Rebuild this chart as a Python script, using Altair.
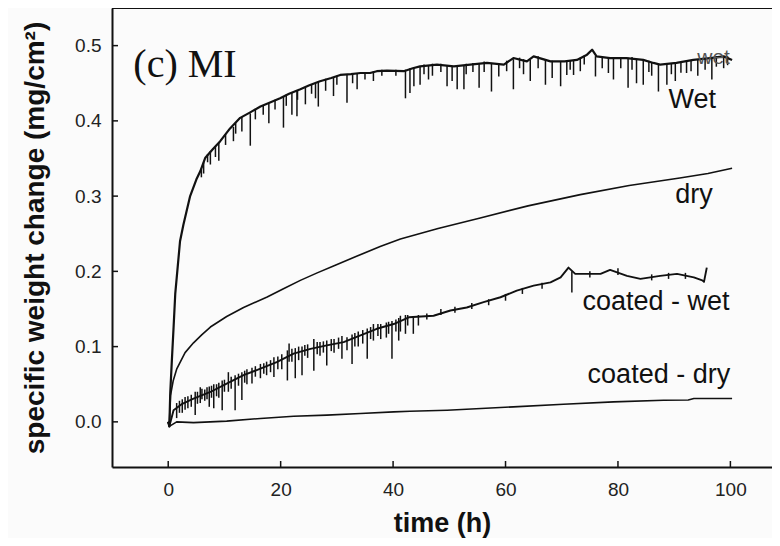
import altair as alt
import pandas as pd

# ---------------- data ----------------
x_ticks = [0, 20, 40, 60, 80, 100]
y_ticks = [0.0, 0.1, 0.2, 0.3, 0.4, 0.5]

wet_t = [0.0, 0.2, 0.36, 0.65, 0.95, 1.25, 2.1, 2.7, 3.9, 5.0, 5.7, 6.6, 8.0, 9.25, 11.0,
         12.8, 14.5, 16.4, 18.0, 19.9, 21.5, 23.5, 25.0, 27.0, 29.0, 30.6, 32.5, 34.2, 35.9,
         37.1, 38.9, 41.9, 43.5, 44.8, 47.8, 50.8, 53.7, 56.7, 59.7, 61.4, 63.8, 65.0, 68.0,
         70.5, 72.7, 74.5, 75.4, 76.2, 78.6, 81.5, 84.5, 86.3, 87.5, 90.4, 93.4, 96.4, 98.8, 100.3]
wet_v = [0.0, -0.006, 0.038, 0.082, 0.125, 0.17, 0.24, 0.262, 0.300, 0.322, 0.333, 0.351, 0.363,
         0.373, 0.39, 0.404, 0.411, 0.419, 0.424, 0.43, 0.436, 0.442, 0.447, 0.4526, 0.457, 0.461,
         0.462, 0.4636, 0.4636, 0.466, 0.4667, 0.466, 0.470, 0.4725, 0.4747, 0.4725, 0.4747, 0.477,
         0.4747, 0.4835, 0.479, 0.4857, 0.479, 0.479, 0.481, 0.488, 0.4946, 0.4857, 0.4835, 0.4835,
         0.481, 0.477, 0.4747, 0.477, 0.481, 0.4835, 0.4857, 0.481]

# downward spikes / jitter of the "Wet" trace: time, top, bottom
wet_spike_t = [7.5, 9.0, 11.6, 13.1, 14.6, 17.9, 20.5, 22.0, 22.9, 24.4, 26.2, 26.7, 29.4, 31.8,
               33.6, 36.5, 42.2, 43.0, 43.7, 44.8, 46.3, 49.6, 50.5, 51.4, 52.6, 55.3, 57.5, 58.8,
               61.4, 64.4, 67.1, 68.3, 69.8, 70.9, 72.1, 73.3, 76.0, 78.3, 79.2, 81.8, 83.3, 84.5,
               87.2, 88.7, 90.2, 92.2, 96.7, 98.8,
               5.9, 6.3, 7.0, 8.4, 10.2, 12.0, 15.5, 16.9, 19.0, 21.0, 23.0, 25.5, 28.0, 30.0,
               32.8, 35.0, 38.0, 40.5, 45.5, 47.0, 48.5, 53.0, 54.2, 56.2, 60.2, 62.5, 63.2, 65.8,
               71.5, 74.0, 77.2, 80.5, 82.5, 85.5, 86.0, 89.5, 91.2, 93.0, 94.2, 95.5, 97.5, 99.5]
wet_spike_top = [0.36, 0.372, 0.392, 0.405, 0.41, 0.423, 0.432, 0.438, 0.44, 0.445, 0.45, 0.452,
                 0.458, 0.462, 0.463, 0.466, 0.468, 0.470, 0.471, 0.472, 0.474, 0.474, 0.473, 0.473,
                 0.474, 0.476, 0.477, 0.476, 0.482, 0.481, 0.482, 0.480, 0.479, 0.479, 0.481, 0.484,
                 0.486, 0.484, 0.484, 0.484, 0.482, 0.481, 0.475, 0.476, 0.477, 0.479, 0.484, 0.486,
                 0.336, 0.345, 0.356, 0.366, 0.382, 0.397, 0.416, 0.421, 0.428, 0.435, 0.441, 0.449,
                 0.456, 0.46, 0.463, 0.465, 0.468, 0.468, 0.475, 0.476, 0.476, 0.476, 0.477, 0.479,
                 0.48, 0.484, 0.482, 0.486, 0.48, 0.487, 0.486, 0.485, 0.485, 0.48, 0.478, 0.476,
                 0.478, 0.481, 0.482, 0.484, 0.486, 0.486]
wet_spike_bot = [0.342, 0.347, 0.373, 0.386, 0.367, 0.397, 0.391, 0.408, 0.406, 0.422, 0.43, 0.419,
                 0.433, 0.424, 0.442, 0.453, 0.430, 0.437, 0.446, 0.448, 0.455, 0.446, 0.453, 0.442,
                 0.442, 0.444, 0.439, 0.459, 0.442, 0.453, 0.448, 0.457, 0.446, 0.461, 0.461, 0.466,
                 0.459, 0.4636, 0.455, 0.444, 0.45, 0.448, 0.439, 0.448, 0.453, 0.4636, 0.455, 0.470,
                 0.325, 0.33, 0.345, 0.352, 0.368, 0.383, 0.402, 0.408, 0.415, 0.42, 0.428, 0.436,
                 0.44, 0.448, 0.45, 0.455, 0.46, 0.46, 0.462, 0.46, 0.465, 0.462, 0.465, 0.465,
                 0.466, 0.47, 0.462, 0.47, 0.468, 0.475, 0.47, 0.47, 0.468, 0.465, 0.46, 0.462,
                 0.464, 0.466, 0.46, 0.468, 0.472, 0.474]

dry_t = [0.0, 0.2, 0.4, 0.9, 1.5, 3.0, 4.5, 6.0, 7.5, 10.4, 13.4, 17.6, 20.5, 23.5, 26.5, 29.4,
         33.5, 37.7, 41.3, 48.0, 55.5, 64.0, 73.3, 82.0, 91.0, 96.0, 100.3]
dry_v = [0.0, -0.004, 0.035, 0.055, 0.07, 0.092, 0.105, 0.116, 0.126, 0.140, 0.152, 0.166, 0.177,
         0.188, 0.198, 0.207, 0.220, 0.233, 0.243, 0.257, 0.271, 0.287, 0.302, 0.314, 0.324, 0.330,
         0.337]

cwet_t = [0.0, 0.2, 0.95, 2.5, 4.5, 7.5, 10.4, 13.4, 16.4, 19.3, 22.3, 25.3, 28.2, 31.2, 34.2,
          37.1, 40.1, 42.8, 47.2, 50.2, 53.1, 56.1, 59.1, 62.0, 65.0, 68.0, 69.8, 71.2, 72.4,
          76.9, 78.6, 81.6, 84.0, 87.5, 90.5, 93.5, 95.0, 95.3, 95.8]
cwet_v = [0.0, -0.006, 0.0155, 0.024, 0.031, 0.0397, 0.0508, 0.062, 0.0707, 0.0795, 0.0906, 0.097,
          0.1016, 0.106, 0.1148, 0.1237, 0.130, 0.139, 0.141, 0.148, 0.152, 0.159, 0.1656, 0.1744,
          0.181, 0.1854, 0.192, 0.205, 0.1966, 0.1966, 0.202, 0.194, 0.19, 0.194, 0.1966, 0.192,
          0.188, 0.186, 0.205]

# noise band of the "coated - wet" trace: time, top, bottom
cwet_spike_t = [1.5, 2.5, 3.5, 4.8, 5.7, 6.5, 7.3, 8.1, 9.0, 9.6, 10.7, 11.9, 13.1, 14.0, 14.9,
                16.4, 17.5, 18.8, 20.2, 21.2, 21.5, 22.6, 23.8, 24.8, 25.9, 27.0, 28.2, 29.5, 30.9,
                31.8, 32.7, 33.8, 35.4, 36.5, 37.8, 38.8, 39.8, 41.0, 41.3, 42.2, 43.6, 44.5, 71.8,
                2.0, 3.0, 4.1, 5.2, 6.0, 6.9, 7.7, 8.6, 10.0, 11.2, 12.5, 13.6, 15.5, 17.0, 18.2,
                19.5, 22.0, 23.2, 24.3, 26.5, 27.6, 29.0, 30.3, 33.2, 34.6, 36.0, 37.3, 39.2, 40.5,
                42.6, 46.0, 48.5, 51.0, 54.0, 57.0, 60.0, 63.0, 66.5, 75.0, 80.0, 86.0, 89.0, 92.0]
cwet_spike_top = [0.025, 0.03, 0.034, 0.04, 0.046, 0.043, 0.047, 0.05, 0.052, 0.055, 0.066, 0.062,
                  0.066, 0.07, 0.072, 0.077, 0.08, 0.086, 0.09, 0.095, 0.104, 0.098, 0.1, 0.103,
                  0.11, 0.106, 0.108, 0.11, 0.114, 0.1126, 0.116, 0.12, 0.124, 0.13, 0.13, 0.132,
                  0.134, 0.138, 0.141, 0.142, 0.14, 0.142, 0.2,
                  0.028, 0.033, 0.036, 0.04, 0.044, 0.046, 0.048, 0.05, 0.056, 0.06, 0.064, 0.068,
                  0.074, 0.078, 0.082, 0.087, 0.097, 0.1, 0.102, 0.106, 0.107, 0.11, 0.112, 0.118,
                  0.122, 0.126, 0.13, 0.133, 0.136, 0.142, 0.144, 0.15, 0.153, 0.158, 0.163, 0.17,
                  0.178, 0.185, 0.2, 0.204, 0.196, 0.198, 0.198]
cwet_spike_bot = [0.005, 0.012, 0.018, 0.009, 0.025, 0.028, 0.02, 0.018, 0.032, 0.0155, 0.04,
                  0.0155, 0.029, 0.05, 0.051, 0.058, 0.062, 0.0596, 0.07, 0.055, 0.08, 0.058,
                  0.062, 0.085, 0.068, 0.088, 0.075, 0.092, 0.084, 0.095, 0.077, 0.1, 0.084, 0.108,
                  0.11, 0.112, 0.084, 0.108, 0.12, 0.117, 0.117, 0.128, 0.172,
                  0.012, 0.016, 0.02, 0.024, 0.03, 0.03, 0.032, 0.034, 0.04, 0.044, 0.048, 0.052,
                  0.06, 0.064, 0.066, 0.07, 0.08, 0.082, 0.088, 0.09, 0.092, 0.094, 0.097, 0.1,
                  0.104, 0.11, 0.114, 0.117, 0.12, 0.128, 0.136, 0.142, 0.145, 0.15, 0.155, 0.161,
                  0.17, 0.177, 0.192, 0.195, 0.188, 0.19, 0.19]

cdry_t = [0.0, 0.2, 1.5, 4.5, 10.4, 16.4, 22.3, 28.2, 34.2, 40.1, 43.0, 49.6, 61.4, 70.3, 79.2,
          88.1, 92.5, 93.5, 100.3]
cdry_v = [0.0, -0.006, 0.0, -0.001, 0.001, 0.0045, 0.0075, 0.009, 0.011, 0.0133, 0.014, 0.0155,
          0.0199, 0.0234, 0.0265, 0.0287, 0.029, 0.031, 0.031]

curve_labels = ["Wet", "dry", "coated - wet", "coated - dry"]
curve_label_t = [89.0, 90.2, 73.7, 74.6]
curve_label_v = [0.417, 0.291, 0.148, 0.051]

panel_label = ["(c) MI"]
panel_label_t = [-6.2]
panel_label_v = [0.458]

ghost_label = ["wet"]
ghost_label_t = [94.1]
ghost_label_v = [0.476]

# ---------------- chart ----------------
FONT = "Liberation Sans"
INK = "#111111"
W, H = 660, 459

xs = alt.Scale(domain=[-10, 107.4], nice=False, zero=False)
ys = alt.Scale(domain=[-0.06, 0.55], nice=False, zero=False)

xaxis = alt.Axis(values=x_ticks, ticks=False, grid=False, domainColor=INK, domainWidth=2,
                 labelFont=FONT, labelFontSize=19, labelColor="#222222", labelPadding=13,
                 title="time (h)", titleFont=FONT, titleFontSize=27, titleFontWeight="bold",
                 titleColor=INK, titlePadding=11)
yaxis = alt.Axis(values=y_ticks, format=".1f", ticks=False, grid=False, domainColor=INK,
                 domainWidth=2, labelFont=FONT, labelFontSize=19, labelColor="#222222",
                 labelPadding=11, title="specific weight change (mg/cm²)", titleFont=FONT,
                 titleFontSize=28, titleFontWeight="bold", titleColor=INK, titlePadding=25)


def series(t, v):
    return pd.DataFrame({"t": t, "v": v, "i": list(range(len(t)))})


def line_layer(t, v, w):
    return alt.Chart(series(t, v)).mark_line(color=INK, strokeWidth=w, strokeJoin="round").encode(
        x=alt.X("t:Q", scale=xs, axis=xaxis),
        y=alt.Y("v:Q", scale=ys, axis=yaxis),
        order="i:Q",
    )


def spike_layer(t, top, bot, w):
    df = pd.DataFrame({"t": t, "top": top, "bot": bot})
    return alt.Chart(df).mark_rule(color=INK, strokeWidth=w).encode(
        x=alt.X("t:Q", scale=xs),
        y=alt.Y("top:Q", scale=ys),
        y2="bot:Q",
    )


wet = line_layer(wet_t, wet_v, 2.2)
wet_sp = spike_layer(wet_spike_t, wet_spike_top, wet_spike_bot, 1.5)
dry = line_layer(dry_t, dry_v, 1.6)
cwet = line_layer(cwet_t, cwet_v, 1.9)
cwet_sp = spike_layer(cwet_spike_t, cwet_spike_top, cwet_spike_bot, 1.5)
cdry = line_layer(cdry_t, cdry_v, 1.6)

# inward tick marks placed through the scales
yt = alt.Chart(pd.DataFrame({"v": y_ticks})).mark_rule(color=INK, strokeWidth=1.5).encode(
    y=alt.Y("v:Q", scale=ys), x=alt.value(0), x2=alt.value(6))
xt = alt.Chart(pd.DataFrame({"t": x_ticks})).mark_rule(color=INK, strokeWidth=1.5).encode(
    x=alt.X("t:Q", scale=xs), y=alt.value(H), y2=alt.value(H - 6))
top_edge = alt.Chart(pd.DataFrame({"a": [0]})).mark_rule(color=INK, strokeWidth=2).encode(
    y=alt.value(0))

labels = alt.Chart(pd.DataFrame({"label": curve_labels, "t": curve_label_t, "v": curve_label_v})
                   ).mark_text(font=FONT, fontSize=27, color=INK, align="left",
                               baseline="alphabetic").encode(
    x=alt.X("t:Q", scale=xs), y=alt.Y("v:Q", scale=ys), text="label:N")
panel = alt.Chart(pd.DataFrame({"label": panel_label, "t": panel_label_t, "v": panel_label_v})
                  ).mark_text(font="Liberation Serif", fontSize=40, color=INK, align="left",
                              baseline="alphabetic").encode(
    x=alt.X("t:Q", scale=xs), y=alt.Y("v:Q", scale=ys), text="label:N")
ghost = alt.Chart(pd.DataFrame({"label": ghost_label, "t": ghost_label_t, "v": ghost_label_v})
                  ).mark_text(font=FONT, fontSize=21, color="#555555", align="left",
                              baseline="alphabetic").encode(
    x=alt.X("t:Q", scale=xs), y=alt.Y("v:Q", scale=ys), text="label:N")

chart = alt.layer(
    wet, wet_sp, dry, cwet, cwet_sp, cdry, yt, xt, top_edge, labels, panel, ghost
).properties(
    width=W, height=H,
    autosize=alt.AutoSizeParams(type="none"),
    padding={"left": 104, "top": 0, "right": 0, "bottom": 71},
    background="#fbfbfb",
).configure_view(stroke=None)

chart.save("out.html", embed_options={"renderer": "svg", "actions": False})
